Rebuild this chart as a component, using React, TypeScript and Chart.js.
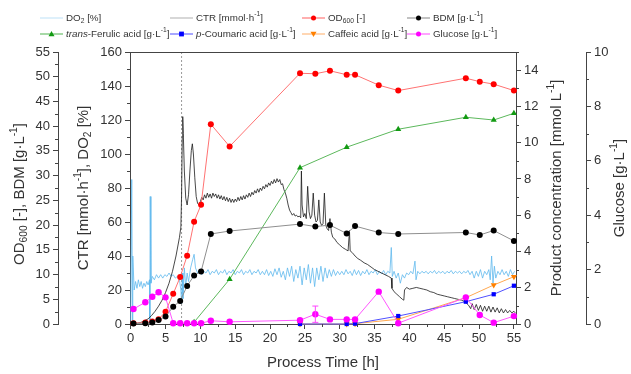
import React, { useEffect, useRef } from 'react';
import { Chart, registerables } from 'chart.js';

Chart.register(...registerables);

const FONT = '"Liberation Sans", Arial, Helvetica, sans-serif';

// ---------- data ----------
const sampleTime = [0.4, 2.1, 3.1, 4.0, 5.0, 6.1, 7.1, 8.1, 9.1, 10.1, 11.5, 14.2, 24.3, 26.5, 28.6, 31.0, 32.2, 35.6, 38.4, 48.1, 50.1, 52.1, 55.0];
const od600 = [0.15, 0.3, 0.5, 0.95, 2.5, 6.1, 9.5, 13.8, 20.7, 24.1, 40.4, 35.9, 50.7, 50.6, 51.2, 50.4, 50.4, 48.3, 47.2, 49.7, 49.0, 48.5, 47.2];
const bdm = [0.1, 0.15, 0.3, 0.8, 1.5, 3.5, 4.65, 7.7, 9.8, 10.6, 18.2, 18.8, 20.2, 19.7, 20.0, 18.3, 19.8, 18.5, 18.2, 18.5, 18.0, 18.9, 16.8];
const glucose = [0.55, 0.8, 1.0, 1.17, 0.98, 0.03, 0.03, 0.03, 0.03, 0.03, 0.12, 0.08, 0.14, 0.36, 0.17, 0.17, 0.17, 1.19, 0.03, 0.98, 0.33, 0.05, 0.29];
const glucoseErr = [0, 0, 0, 0, 0, 0, 0, 0, 0, 0, 0, 0, 0, 0.3, 0, 0, 0, 0, 0, 0, 0, 0, 0];

const ferulicTime = [9.1, 14.2, 24.3, 31.0, 38.4, 48.1, 52.1, 55.0];
const ferulic = [0.1, 2.47, 8.62, 9.75, 10.74, 11.4, 11.25, 11.62];

const productTime = [24.3, 31.0, 32.2, 38.4, 48.1, 52.1, 55.0];
const coumaric = [0, 0, 0.02, 0.44, 1.23, 1.64, 2.11];
const caffeic = [0, 0, 0.02, 0.26, 1.45, 2.15, 2.61];

const ctrTime = [0, 0.5, 1, 1.5, 2, 2.5, 3, 3.5, 4, 4.5, 5, 5.5, 6, 6.5, 7, 7.2, 7.3, 7.4, 7.47, 7.55, 7.7, 7.9, 8.1, 8.3, 8.5, 8.7, 8.85, 9.0, 9.2, 9.4, 9.6, 9.8, 10.0,
  10.2, 10.4, 10.6, 10.8, 11.0, 11.2, 11.4, 11.6, 11.8, 12.0, 12.2, 12.4, 12.6, 12.8, 13.0, 13.2, 13.4, 13.6, 13.8, 14.0, 14.2, 14.4, 14.6, 14.8, 15.0,
  15.2, 15.4, 15.6, 15.8, 16.0, 16.2, 16.4, 16.6, 16.8, 17.0, 17.2, 17.4, 17.6, 17.8, 18.0, 18.2, 18.4, 18.6, 18.8, 19.0, 19.2, 19.4, 19.6, 19.8, 20.0,
  20.2, 20.4, 20.6, 20.8, 21.0, 21.2, 21.4, 21.6, 21.8, 22.0, 22.2, 22.4, 22.6, 22.8, 23.0, 23.2, 23.4, 23.6, 23.8, 24.0, 24.2, 24.4, 24.5, 24.6, 24.8,
  25.0, 25.2, 25.4, 25.6, 25.8, 26.0, 26.2, 26.4, 26.6, 26.8, 27.0, 27.2, 27.4, 27.6, 27.8, 28.0, 28.2, 28.4, 28.6, 28.8, 29.0, 29.3, 29.6, 30.0, 30.4,
  30.8, 31.2, 31.4, 31.5, 31.8, 32.2, 32.6, 33.0, 33.5, 34.0, 34.5, 35.0, 35.5, 36.0, 36.5, 37.0, 37.4, 37.5, 37.8, 38.2, 38.6, 39.0, 39.2, 39.3, 39.6,
  40.0, 40.5, 41.0, 41.5, 42.0, 42.5, 43.0, 43.5, 44.0, 44.5, 45.0, 45.5, 46.0, 46.5, 47.0, 47.5, 48.0, 48.5, 48.8, 49.0, 49.3, 49.6, 49.9, 50.2, 50.5,
  50.8, 51.1, 51.4, 51.7, 52.0, 52.3, 52.6, 52.9, 53.2, 53.5, 53.8, 54.1, 54.4, 54.7, 55.0, 55.2];
const ctrValues = [0, 0.2, 0.5, 1, 2, 3, 5, 7.5, 10.5, 14, 18.5, 24, 31, 40, 51, 57, 75, 110, 122, 112, 90, 74, 70, 76, 90, 102, 106, 100, 86, 75, 71, 70, 72,
  74.5, 73, 76, 74, 77, 74.5, 76.5, 74, 77, 75, 76.5, 74, 76, 73.5, 75.5, 73, 75, 72.5, 74.5, 72, 74, 71.5, 73.5, 71.5, 73.5,
  72, 74.5, 72.5, 75, 73, 75.5, 73.5, 76, 74.5, 77, 75, 77.5, 76, 78.5, 77, 79.5, 77.5, 80, 78.5, 81, 79.5, 82, 80.5, 83, 81.5,
  84, 82.5, 85, 83, 85.5, 83.5, 85, 82, 82.5, 79, 77, 74, 70, 67, 65.5, 64, 65, 63.5, 64, 63, 63.5, 62.5, 90, 70, 63,
  65, 62, 81, 66, 62, 64, 77, 64, 60, 61, 73, 60, 58, 59, 77, 58, 56, 55, 62, 54, 51, 50, 48, 46.5, 45,
  44, 43, 55, 43, 42, 40, 38.5, 37.5, 36, 35, 33.5, 32, 31, 30, 29, 28, 27, 21, 19, 17.5, 16, 14.5, 14, 20, 21.5,
  20.5, 21, 21.5, 21, 20.5, 20, 19, 18.5, 17.5, 17, 16.5, 16, 15.5, 15, 14.5, 14, 13, 11, 9, 12, 8.5, 11.5, 8, 11, 7.5,
  10.5, 7.5, 10.5, 7, 10, 7, 9.5, 6.5, 9, 6.5, 8.5, 6.5, 8, 6.5, 7.5, 6.5];

const do2Time = [0.0, 0.15, 0.25, 0.3, 0.5, 0.7, 0.9, 1.1, 1.3, 1.5, 1.7, 1.9, 2.1, 2.3, 2.5, 2.7, 2.75, 2.8, 2.9, 3.1, 3.4, 3.7, 4.0, 4.3, 4.6, 4.9,
  5.2, 5.5, 5.8, 6.1, 6.4, 6.7, 7.0, 7.2, 7.3, 7.4, 7.5, 7.7, 7.9, 8.1, 8.3, 8.6, 8.9, 9.1, 9.3, 9.6, 9.9, 10.2, 10.5, 10.8, 11.1, 11.4, 11.7, 12.0,
  12.3, 12.6, 12.9, 13.2, 13.5, 13.8, 14.1, 14.4, 14.7, 15.0, 15.3, 15.6, 15.9, 16.2, 16.5, 16.8, 17.1, 17.4, 17.7, 18.0, 18.3, 18.6, 18.9, 19.2,
  19.5, 19.8, 20.1, 20.4, 20.7, 21.0, 21.3, 21.6, 21.9, 22.2, 22.5, 22.8, 23.1, 23.4, 23.7, 24.0, 24.3, 24.6, 24.9, 25.2, 25.5, 25.8, 26.1, 26.4,
  26.7, 27.0, 27.3, 27.6, 27.9, 28.2, 28.5, 28.8, 29.1, 29.4, 29.7, 30.0, 30.3, 30.6, 30.9, 31.2, 31.5, 31.8, 32.1, 32.4, 32.7, 33.0, 33.3, 33.6,
  33.9, 34.2, 34.5, 34.8, 35.1, 35.4, 35.7, 36.0, 36.3, 36.6, 36.9, 37.2, 37.4, 37.55, 37.8, 38.1, 38.4, 38.7, 39.0, 39.3, 39.6, 39.9, 40.2, 40.5,
  40.8, 40.95, 41.2, 41.5, 41.8, 42.1, 42.4, 42.7, 43.0, 43.3, 43.6, 43.9, 44.2, 44.5, 44.8, 45.1, 45.4, 45.7, 46.0, 46.3, 46.6, 46.9, 47.2, 47.5,
  47.8, 48.1, 48.4, 48.7, 49.0, 49.3, 49.6, 49.9, 50.2, 50.5, 50.8, 51.1, 51.4, 51.6, 51.8, 52.0, 52.2, 52.4, 52.7, 53.0, 53.3, 53.6, 53.9, 54.2,
  54.5, 54.8, 55.1];
const do2Values = [2, 85, 2, 40, 20, 25, 21, 26, 22, 25, 21, 24, 22, 25, 23, 26, 0, 75, 24, 28, 26, 29, 27, 29, 27, 29,
  28, 30, 28, 29, 27, 28, 26, 20, 12, 30, 15, 33, 22, 30, 25, 33, 38, 41, 33, 30, 32, 29, 31, 30, 32, 29, 31, 30,
  32, 29, 31, 30, 32, 29, 31, 30, 32, 29, 31, 30, 32, 29, 31, 30, 32, 29, 31, 30, 32, 29, 31, 29,
  32, 28.5, 31, 28, 32.5, 29, 33, 27.5, 31, 26, 33, 28, 34, 25, 32, 27, 34, 23, 33, 26, 35, 24, 33, 22,
  33, 26, 34, 25, 33, 27, 32, 28, 32, 28.5, 31, 29, 31, 29, 32, 29.5, 31, 28.5, 32, 29, 31.5, 28.5, 31, 29.5,
  32, 29, 31, 30, 32, 29, 31, 29.5, 31.5, 29, 31, 30, 45, 28, 31, 27, 30, 24, 29, 27, 30, 29, 31, 29.5,
  37, 26, 31, 29.5, 31, 30, 31, 29.5, 31, 30, 31.5, 29.5, 31, 30, 31, 29.5, 31, 30, 31.5, 29.5, 31, 30, 31, 29.5,
  31, 30, 31.5, 29, 31, 27, 31, 28, 32, 27, 31, 29, 32, 26, 40, 24, 34, 27, 31, 29, 32, 29, 31, 28,
  32, 29, 31];

const feedStartTime = 7.3;

const xTicks = [0, 5, 10, 15, 20, 25, 30, 35, 40, 45, 50, 55];
const odTicks = [0, 5, 10, 15, 20, 25, 30, 35, 40, 45, 50, 55];
const ctrTicks = [0, 20, 40, 60, 80, 100, 120, 140, 160];
const prodTicks = [0, 2, 4, 6, 8, 10, 12, 14];
const gluTicks = [0, 2, 4, 6, 8, 10];

// ---------- rich text helpers ----------
type Seg = { t: string; s?: 'i' | 'sub' | 'sup' };

function segFont(size: number, s?: string) {
  if (s === 'sub' || s === 'sup') return `${(size * 0.68).toFixed(1)}px ${FONT}`;
  if (s === 'i') return `italic ${size}px ${FONT}`;
  return `${size}px ${FONT}`;
}
function measureRich(ctx: CanvasRenderingContext2D, segs: Seg[], size: number) {
  let w = 0;
  for (const g of segs) {
    ctx.font = segFont(size, g.s);
    w += ctx.measureText(g.t).width;
  }
  return w;
}
function drawRich(ctx: CanvasRenderingContext2D, segs: Seg[], x: number, y: number, size: number, align: 'left' | 'center') {
  let cx = align === 'center' ? x - measureRich(ctx, segs, size) / 2 : x;
  ctx.textAlign = 'left';
  ctx.textBaseline = 'middle';
  for (const g of segs) {
    ctx.font = segFont(size, g.s);
    let dy = 0;
    if (g.s === 'sub') dy = size * 0.28;
    if (g.s === 'sup') dy = -size * 0.36;
    ctx.fillText(g.t, cx, y + dy);
    cx += ctx.measureText(g.t).width;
  }
}

function drawMarker(ctx: CanvasRenderingContext2D, kind: string, x: number, y: number, color: string) {
  ctx.fillStyle = color;
  ctx.beginPath();
  if (kind === 'circle') {
    ctx.arc(x, y, 2.5, 0, Math.PI * 2);
  } else if (kind === 'tri') {
    ctx.moveTo(x, y - 3);
    ctx.lineTo(x + 3, y + 2.2);
    ctx.lineTo(x - 3, y + 2.2);
    ctx.closePath();
  } else if (kind === 'dtri') {
    ctx.moveTo(x, y + 3);
    ctx.lineTo(x + 3, y - 2.2);
    ctx.lineTo(x - 3, y - 2.2);
    ctx.closePath();
  } else if (kind === 'rect') {
    ctx.rect(x - 2.4, y - 2.4, 4.8, 4.8);
  }
  ctx.fill();
}

const legendItems: { x: number; y: number; line: string; marker?: string; mcolor?: string; segs: Seg[] }[] = [
  { x: 40, y: 18, line: '#c9e6f8', segs: [{ t: 'DO' }, { t: '2', s: 'sub' }, { t: ' [%]' }] },
  { x: 170, y: 18, line: '#bdbdbd', segs: [{ t: 'CTR [mmol·h' }, { t: '-1', s: 'sup' }, { t: ']' }] },
  { x: 302, y: 18, line: '#ff7a7a', marker: 'circle', mcolor: '#ff0000', segs: [{ t: 'OD' }, { t: '600', s: 'sub' }, { t: ' [-]' }] },
  { x: 407, y: 18, line: '#9a9a9a', marker: 'circle', mcolor: '#000000', segs: [{ t: 'BDM [g·L' }, { t: '-1', s: 'sup' }, { t: ']' }] },
  { x: 40, y: 34, line: '#6cbf6c', marker: 'tri', mcolor: '#129a12', segs: [{ t: 'trans', s: 'i' }, { t: '-Ferulic acid [g·L' }, { t: '-1', s: 'sup' }, { t: ']' }] },
  { x: 170, y: 34, line: '#6a6aff', marker: 'rect', mcolor: '#0000ff', segs: [{ t: 'p', s: 'i' }, { t: '-Coumaric acid [g·L' }, { t: '-1', s: 'sup' }, { t: ']' }] },
  { x: 302, y: 34, line: '#ffbb80', marker: 'dtri', mcolor: '#ff8000', segs: [{ t: 'Caffeic acid [g·L' }, { t: '-1', s: 'sup' }, { t: ']' }] },
  { x: 407, y: 34, line: '#ff66ff', marker: 'circle', mcolor: '#ff00ff', segs: [{ t: 'Glucose [g·L' }, { t: '-1', s: 'sup' }, { t: ']' }] },
];

const TEXT = '#333333';
const AXIS = '#444444';
const LEGEND_SIZE = 9.8;

const pts = (xs: number[], ys: number[]) => xs.map((x, i) => ({ x, y: ys[i] }));

const decorPlugin = {
  id: 'decor',
  beforeDatasetsDraw(chart: any) {
    const { ctx, chartArea, scales } = chart;
    const x = scales.x.getPixelForValue(feedStartTime);
    ctx.save();
    ctx.strokeStyle = '#9a9a9a';
    ctx.lineWidth = 1;
    ctx.setLineDash([2, 2]);
    ctx.beginPath();
    ctx.moveTo(x, chartArea.top);
    ctx.lineTo(x, chartArea.bottom);
    ctx.stroke();
    ctx.restore();
  },
  afterDatasetsDraw(chart: any) {
    const { ctx, scales } = chart;
    ctx.save();
    ctx.strokeStyle = '#ff44ff';
    ctx.lineWidth = 1;
    sampleTime.forEach((t, i) => {
      const e = glucoseErr[i];
      if (!e) return;
      const px = scales.x.getPixelForValue(t);
      const y1 = scales.yGlu.getPixelForValue(glucose[i] + e);
      const y2 = scales.yGlu.getPixelForValue(Math.max(0, glucose[i] - e));
      ctx.beginPath();
      ctx.moveTo(px, y1); ctx.lineTo(px, y2);
      ctx.moveTo(px - 3, y1); ctx.lineTo(px + 3, y1);
      ctx.moveTo(px - 3, y2); ctx.lineTo(px + 3, y2);
      ctx.stroke();
    });
    ctx.restore();
  },
  afterDraw(chart: any) {
    const { ctx, chartArea, scales } = chart;
    ctx.save();
    ctx.strokeStyle = AXIS;
    ctx.lineWidth = 1;
    ctx.beginPath();
    ctx.moveTo(chartArea.left, chartArea.top + 0.5);
    ctx.lineTo(chartArea.right, chartArea.top + 0.5);
    ctx.stroke();

    const minor = (id: string, step: number, majorStep: number, max: number) => {
      const s = scales[id];
      ctx.beginPath();
      for (let v = step; v < max + 1e-9; v += step) {
        if (Math.abs(v / majorStep - Math.round(v / majorStep)) < 1e-6) continue;
        if (s.isHorizontal()) {
          const px = Math.round(s.getPixelForValue(v)) + 0.5;
          ctx.moveTo(px, s.top); ctx.lineTo(px, s.top + 3);
        } else {
          const py = Math.round(s.getPixelForValue(v)) + 0.5;
          if (s.position === 'left') { ctx.moveTo(s.right, py); ctx.lineTo(s.right - 3, py); }
          else { ctx.moveTo(s.left, py); ctx.lineTo(s.left + 3, py); }
        }
      }
      ctx.stroke();
    };
    minor('x', 2.5, 5, 55);
    minor('yOD', 2.5, 5, 55);
    minor('yCTR', 10, 20, 160);
    minor('yProd', 1, 2, 15);
    minor('yGlu', 1, 2, 10);

    for (const it of legendItems) {
      ctx.strokeStyle = it.line;
      ctx.lineWidth = 1.2;
      ctx.beginPath();
      ctx.moveTo(it.x, it.y);
      ctx.lineTo(it.x + 23, it.y);
      ctx.stroke();
      if (it.marker) drawMarker(ctx, it.marker, it.x + 11.5, it.y, it.mcolor!);
      ctx.fillStyle = TEXT;
      drawRich(ctx, it.segs, it.x + 26, it.y, LEGEND_SIZE, 'left');
    }

    const midY = (chartArea.top + chartArea.bottom) / 2;
    ctx.fillStyle = TEXT;
    drawRich(ctx, [{ t: 'Process Time [h]' }], (chartArea.left + chartArea.right) / 2, 363, 15, 'center');
    const vTitle = (segs: Seg[], x: number, y: number) => {
      ctx.save();
      ctx.translate(x, y);
      ctx.rotate(-Math.PI / 2);
      drawRich(ctx, segs, 0, 0, 15, 'center');
      ctx.restore();
    };
    vTitle([{ t: 'OD' }, { t: '600', s: 'sub' }, { t: ' [-], BDM [g·L' }, { t: '-1', s: 'sup' }, { t: ']' }], 20, midY + 6);
    vTitle([{ t: 'CTR [mmol·h' }, { t: '-1', s: 'sup' }, { t: '], DO' }, { t: '2', s: 'sub' }, { t: ' [%]' }], 84, midY);
    vTitle([{ t: 'Product concentration [mmol L' }, { t: '-1', s: 'sup' }, { t: ']' }], 557, midY);
    vTitle([{ t: 'Glucose [g·L' }, { t: '-1', s: 'sup' }, { t: ']' }], 620, midY);
    ctx.restore();
  },
};

function yAxis(position: 'left' | 'right', max: number, ticks: number[], width: number, weight: number) {
  return {
    type: 'linear' as const,
    position,
    min: 0,
    max,
    weight,
    afterBuildTicks: (s: any) => { s.ticks = ticks.map((v) => ({ value: v })); },
    afterFit: (s: any) => { s.width = width; },
    ticks: { font: { family: FONT, size: 13 }, color: TEXT, padding: 3 },
    grid: { drawOnChartArea: false, drawTicks: true, tickLength: 5, color: AXIS, tickColor: AXIS },
    border: { display: true, color: AXIS, width: 1 },
  };
}

export default function App() {
  const ref = useRef<HTMLCanvasElement | null>(null);
  useEffect(() => {
    if (!ref.current) return;
    const markerDs = (label: string, xs: number[], ys: number[], axis: string, line: string, mcol: string, style: any, radius: number, order: number, rotation = 0) => ({
      label,
      data: pts(xs, ys),
      yAxisID: axis,
      borderColor: line,
      borderWidth: 1,
      backgroundColor: mcol,
      pointBackgroundColor: mcol,
      pointBorderColor: mcol,
      pointBorderWidth: 0,
      pointStyle: style,
      pointRadius: radius,
      pointRotation: rotation,
      tension: 0,
      clip: false as any,
      order,
    });
    const chart = new Chart(ref.current, {
      type: 'line',
      data: {
        datasets: [
          { label: 'DO2 [%]', data: pts(do2Time, do2Values), yAxisID: 'yCTR', borderColor: '#5fb9ee', borderWidth: 0.8, pointRadius: 0, tension: 0, order: 10 },
          { label: 'CTR [mmol·h-1]', data: pts(ctrTime, ctrValues), yAxisID: 'yCTR', borderColor: '#1a1a1a', borderWidth: 0.8, pointRadius: 0, tension: 0, order: 9 },
          markerDs('OD600 [-]', sampleTime, od600, 'yOD', '#ff7272', '#ff0000', 'circle', 3, 4),
          markerDs('BDM [g·L-1]', sampleTime, bdm, 'yOD', '#8f8f8f', '#000000', 'circle', 3, 3),
          markerDs('trans-Ferulic acid [g·L-1]', ferulicTime, ferulic, 'yProd', '#5cb85c', '#129a12', 'triangle', 3.5, 5),
          markerDs('p-Coumaric acid [g·L-1]', productTime, coumaric, 'yProd', '#5050ff', '#0000ff', 'rect', 3, 6),
          markerDs('Caffeic acid [g·L-1]', productTime, caffeic, 'yProd', '#ffa850', '#ff8000', 'triangle', 3.5, 7, 180),
          markerDs('Glucose [g·L-1]', sampleTime, glucose, 'yGlu', '#ff55ff', '#ff00ff', 'circle', 3.2, 2),
        ],
      },
      options: {
        animation: false,
        responsive: true,
        maintainAspectRatio: false,
        layout: { padding: { top: 52, left: 0, right: 0, bottom: 0 } },
        plugins: { legend: { display: false }, tooltip: { enabled: false } },
        scales: {
          x: {
            type: 'linear',
            min: -0.1,
            max: 55.3,
            afterBuildTicks: (s: any) => { s.ticks = xTicks.map((v) => ({ value: v })); },
            afterFit: (s: any) => { s.height = 50; },
            ticks: { font: { family: FONT, size: 13 }, color: TEXT, padding: 2, maxRotation: 0 },
            grid: { drawOnChartArea: false, drawTicks: true, tickLength: 5, color: AXIS, tickColor: AXIS },
            border: { display: true, color: AXIS, width: 1 },
          },
          yOD: yAxis('left', 55, odTicks, 58, 1),
          yCTR: yAxis('left', 160, ctrTicks, 72, 0),
          yProd: yAxis('right', 15, prodTicks, 70, 0),
          yGlu: yAxis('right', 10, gluTicks, 45, 1),
        } as any,
      },
      plugins: [decorPlugin],
    });
    return () => chart.destroy();
  }, []);
  return (
    <div style={{ position: 'absolute', left: 0, top: 0, width: 631, height: 374, background: '#fff' }}>
      <canvas ref={ref} />
    </div>
  );
}
